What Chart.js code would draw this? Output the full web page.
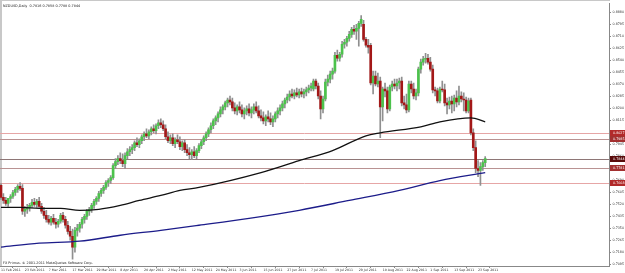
<!DOCTYPE html>
<html lang="en">
<head>
<meta charset="UTF-8" />
<title>NZDUSD Daily</title>
<script src="https://cdn.jsdelivr.net/npm/chart.js"></script>
<style>
  html, body { margin: 0; padding: 0; background: #fff; }
  canvas { display: block; }
</style>
</head>
<body>
<canvas id="chart" width="625" height="273"></canvas>
<script>
// daily bars, one per trading day from 11 Feb 2011
const openP = [
  0.7654,0.7569,0.7548,0.7527,0.7562,0.7576,0.7604,0.7626,0.7647,0.7633,
  0.7471,0.7485,0.7499,0.7513,0.7534,0.7520,0.7541,0.7506,0.7471,0.7442,
  0.7414,0.7393,0.7421,0.7393,0.7379,0.7400,0.7442,0.7414,0.7372,0.7329,
  0.7294,0.7217,0.7336,0.7351,0.7379,0.7414,0.7435,0.7471,0.7485,0.7513,
  0.7541,0.7562,0.7597,0.7619,0.7640,0.7675,0.7689,0.7710,0.7795,0.7823,
  0.7844,0.7830,0.7809,0.7865,0.7893,0.7908,0.7922,0.7957,0.7943,0.7971,
  0.7999,0.8020,0.8006,0.8035,0.8056,0.8042,0.8077,0.8098,0.8084,0.8056,
  0.7999,0.7971,0.7992,0.7950,0.7978,0.7964,0.7929,0.7957,0.7908,0.7886,
  0.7872,0.7893,0.7865,0.7901,0.7936,0.7964,0.7992,0.8020,0.8049,0.8077,
  0.8112,0.8133,0.8161,0.8190,0.8211,0.8239,0.8260,0.8246,0.8204,0.8183,
  0.8211,0.8190,0.8161,0.8183,0.8197,0.8168,0.8190,0.8211,0.8183,0.8147,
  0.8133,0.8112,0.8140,0.8126,0.8105,0.8126,0.8161,0.8183,0.8204,0.8232,
  0.8260,0.8281,0.8302,0.8288,0.8310,0.8295,0.8317,0.8302,0.8317,0.8331,
  0.8345,0.8338,0.8394,0.8359,0.8288,0.8197,0.8267,0.8387,0.8408,0.8443,
  0.8465,0.8577,0.8556,0.8584,0.8655,0.8669,0.8697,0.8725,0.8761,0.8747,
  0.8768,0.8803,0.8796,0.8690,0.8648,0.8648,0.8380,0.8429,0.8373,0.8394,
  0.8211,0.8338,0.8324,0.8197,0.8352,0.8373,0.8359,0.8380,0.8394,0.8239,
  0.8225,0.8190,0.8373,0.8338,0.8288,0.8310,0.8479,0.8528,0.8549,0.8556,
  0.8528,0.8479,0.8331,0.8324,0.8253,0.8338,0.8331,0.8239,0.8225,0.8253,
  0.8232,0.8274,0.8246,0.8288,0.8267,0.8260,0.8183,0.8260,0.8027,0.7922,
  0.7774,0.7760,0.7788,0.7816
];
const highP = [
  0.7668,0.7597,0.7569,0.7555,0.7590,0.7619,0.7640,0.7661,0.7675,0.7661,
  0.7506,0.7520,0.7527,0.7555,0.7562,0.7555,0.7569,0.7527,0.7499,0.7478,
  0.7442,0.7435,0.7449,0.7421,0.7414,0.7456,0.7463,0.7435,0.7400,0.7365,
  0.7344,0.7358,0.7379,0.7393,0.7428,0.7449,0.7485,0.7499,0.7527,0.7555,
  0.7576,0.7612,0.7633,0.7654,0.7689,0.7703,0.7724,0.7809,0.7844,0.7865,
  0.7886,0.7879,0.7886,0.7915,0.7929,0.7943,0.7971,0.7992,0.7985,0.8013,
  0.8035,0.8056,0.8049,0.8070,0.8084,0.8091,0.8119,0.8126,0.8112,0.8084,
  0.8035,0.8013,0.8020,0.7992,0.8013,0.7999,0.7971,0.7978,0.7943,0.7922,
  0.7908,0.7929,0.7915,0.7950,0.7978,0.8006,0.8035,0.8063,0.8098,0.8126,
  0.8147,0.8176,0.8211,0.8225,0.8253,0.8274,0.8288,0.8274,0.8239,0.8225,
  0.8246,0.8225,0.8204,0.8218,0.8232,0.8211,0.8232,0.8246,0.8218,0.8190,
  0.8176,0.8154,0.8183,0.8168,0.8147,0.8176,0.8204,0.8225,0.8253,0.8274,
  0.8302,0.8324,0.8338,0.8331,0.8345,0.8338,0.8345,0.8338,0.8352,0.8366,
  0.8380,0.8408,0.8408,0.8380,0.8324,0.8288,0.8408,0.8436,0.8465,0.8486,
  0.8598,0.8613,0.8598,0.8676,0.8690,0.8711,0.8747,0.8775,0.8789,0.8796,
  0.8817,0.8859,0.8824,0.8704,0.8690,0.8662,0.8465,0.8465,0.8450,0.8422,
  0.8352,0.8380,0.8352,0.8366,0.8394,0.8408,0.8408,0.8415,0.8422,0.8288,
  0.8302,0.8394,0.8394,0.8380,0.8338,0.8493,0.8549,0.8570,0.8591,0.8584,
  0.8563,0.8507,0.8352,0.8345,0.8352,0.8394,0.8373,0.8274,0.8281,0.8288,
  0.8295,0.8324,0.8359,0.8317,0.8310,0.8281,0.8274,0.8274,0.8056,0.7971,
  0.7830,0.7816,0.7830,0.7858
];
const lowP = [
  0.7555,0.7527,0.7513,0.7506,0.7534,0.7562,0.7583,0.7604,0.7619,0.7449,
  0.7435,0.7456,0.7471,0.7499,0.7506,0.7499,0.7499,0.7456,0.7421,0.7393,
  0.7379,0.7372,0.7379,0.7351,0.7358,0.7386,0.7393,0.7351,0.7308,0.7266,
  0.7132,0.7181,0.7294,0.7322,0.7351,0.7386,0.7414,0.7442,0.7463,0.7492,
  0.7520,0.7541,0.7576,0.7597,0.7626,0.7647,0.7668,0.7696,0.7774,0.7802,
  0.7809,0.7788,0.7774,0.7844,0.7865,0.7879,0.7901,0.7929,0.7922,0.7950,
  0.7971,0.7992,0.7985,0.8013,0.8027,0.8020,0.8056,0.8063,0.8042,0.7985,
  0.7957,0.7950,0.7936,0.7922,0.7950,0.7908,0.7901,0.7886,0.7865,0.7844,
  0.7837,0.7851,0.7844,0.7886,0.7915,0.7943,0.7971,0.7999,0.8027,0.8056,
  0.8084,0.8105,0.8140,0.8161,0.8190,0.8211,0.8225,0.8183,0.8161,0.8154,
  0.8168,0.8140,0.8126,0.8154,0.8147,0.8133,0.8161,0.8168,0.8133,0.8112,
  0.8091,0.8077,0.8105,0.8084,0.8070,0.8105,0.8133,0.8154,0.8183,0.8204,
  0.8239,0.8253,0.8274,0.8267,0.8281,0.8274,0.8281,0.8274,0.8288,0.8310,
  0.8324,0.8324,0.8338,0.8267,0.8126,0.8168,0.8253,0.8359,0.8380,0.8408,
  0.8450,0.8535,0.8535,0.8563,0.8627,0.8641,0.8676,0.8704,0.8725,0.8690,
  0.8641,0.8782,0.8676,0.8634,0.8591,0.8366,0.8302,0.8359,0.8352,0.7992,
  0.8112,0.8281,0.8168,0.8183,0.8324,0.8338,0.8324,0.8338,0.8218,0.8197,
  0.8168,0.8176,0.8310,0.8267,0.8260,0.8288,0.8450,0.8507,0.8521,0.8514,
  0.8465,0.8310,0.8288,0.8239,0.8239,0.8317,0.8218,0.8161,0.8197,0.8168,
  0.8183,0.8211,0.8225,0.8246,0.8183,0.8168,0.8168,0.8013,0.7901,0.7745,
  0.7717,0.7654,0.7760,0.7788
];
const closeP = [
  0.7569,0.7548,0.7527,0.7562,0.7576,0.7604,0.7626,0.7647,0.7633,0.7471,
  0.7485,0.7499,0.7513,0.7534,0.7520,0.7541,0.7506,0.7471,0.7442,0.7414,
  0.7393,0.7421,0.7393,0.7379,0.7400,0.7442,0.7414,0.7372,0.7329,0.7294,
  0.7217,0.7336,0.7351,0.7379,0.7414,0.7435,0.7471,0.7485,0.7513,0.7541,
  0.7562,0.7597,0.7619,0.7640,0.7675,0.7689,0.7710,0.7795,0.7823,0.7844,
  0.7830,0.7809,0.7865,0.7893,0.7908,0.7922,0.7957,0.7943,0.7971,0.7999,
  0.8020,0.8006,0.8035,0.8056,0.8042,0.8077,0.8098,0.8084,0.8056,0.7999,
  0.7971,0.7992,0.7950,0.7978,0.7964,0.7929,0.7957,0.7908,0.7886,0.7872,
  0.7893,0.7865,0.7901,0.7936,0.7964,0.7992,0.8020,0.8049,0.8077,0.8112,
  0.8133,0.8161,0.8190,0.8211,0.8239,0.8260,0.8246,0.8204,0.8183,0.8211,
  0.8190,0.8161,0.8183,0.8197,0.8168,0.8190,0.8211,0.8183,0.8147,0.8133,
  0.8112,0.8140,0.8126,0.8105,0.8126,0.8161,0.8183,0.8204,0.8232,0.8260,
  0.8281,0.8302,0.8288,0.8310,0.8295,0.8317,0.8302,0.8317,0.8331,0.8345,
  0.8359,0.8394,0.8359,0.8288,0.8197,0.8267,0.8387,0.8408,0.8443,0.8465,
  0.8577,0.8556,0.8584,0.8655,0.8669,0.8697,0.8725,0.8761,0.8747,0.8768,
  0.8803,0.8831,0.8690,0.8648,0.8634,0.8380,0.8429,0.8373,0.8394,0.8211,
  0.8338,0.8324,0.8197,0.8352,0.8373,0.8359,0.8380,0.8394,0.8239,0.8225,
  0.8190,0.8373,0.8338,0.8288,0.8310,0.8479,0.8528,0.8549,0.8556,0.8528,
  0.8479,0.8331,0.8324,0.8253,0.8338,0.8331,0.8239,0.8225,0.8253,0.8232,
  0.8274,0.8246,0.8288,0.8267,0.8260,0.8183,0.8253,0.8027,0.7922,0.7774,
  0.7760,0.7788,0.7816,0.7844
];

// moving averages, read at a few bars
const maSlowBars = [0, 8, 16, 25, 33, 41, 50, 58, 67, 75, 83, 109, 125, 139, 153, 159, 176, 184, 197, 203];
const maSlowVals = [0.7499, 0.7499, 0.7492, 0.7492, 0.7478, 0.7485, 0.7513, 0.7548, 0.7583, 0.7619, 0.7640,
                    0.7745, 0.7830, 0.7901, 0.8006, 0.8027, 0.8070, 0.8105, 0.8133, 0.8105];
const ma200Bars = [0, 16, 33, 50, 67, 83, 104, 125, 146, 167, 184, 203];
const ma200Vals = [0.7217, 0.7245, 0.7259, 0.7301, 0.7336, 0.7372, 0.7421, 0.7478, 0.7548, 0.7619, 0.7689, 0.7745];

// horizontal price lines
const levels = [0.8027, 0.7985, 0.7844, 0.7781, 0.7668];

const yTicks = [0.8880, 0.8795, 0.8710, 0.8625, 0.8540, 0.8455, 0.8370, 0.8285, 0.8200, 0.8115, 0.8030,
                0.7945, 0.7860, 0.7775, 0.7690, 0.7605, 0.7520, 0.7435, 0.7350, 0.7265, 0.7180, 0.7095];
const xTickBars = [0, 10, 20, 30, 40, 50, 60, 70, 80, 90, 100, 110, 120, 130, 140, 150, 160, 170, 180, 190, 200];
const xTickLabels = ['11 Feb 2011', '23 Feb 2011', '7 Mar 2011', '17 Mar 2011', '29 Mar 2011', '8 Apr 2011',
                     '20 Apr 2011', '2 May 2011', '12 May 2011', '24 May 2011', '3 Jun 2011', '15 Jun 2011',
                     '27 Jun 2011', '7 Jul 2011', '19 Jul 2011', '29 Jul 2011', '10 Aug 2011', '22 Aug 2011',
                     '1 Sep 2011', '13 Sep 2011', '23 Sep 2011'];

const levelLine = ['#e6a6a6', '#b99292', '#8e7676', '#b99292', '#e6a6a6'];
const levelBox = ['#b22a2a', '#a33030', '#5a0c0c', '#a33030', '#b22a2a'];
const FONT = 'DejaVu Sans';

const bodies = openP.map((o, i) => ({ x: i, y: [o, closeP[i]] }));
const wicks = lowP.map((l, i) => ({ x: i, y: [l, highP[i]] }));
const bodyColors = openP.map((o, i) => closeP[i] >= o ? '#4cc24c' : '#a31818');
const last = openP.length - 1;

const overlay = {
  id: 'overlay',
  beforeDraw(chart) {
    const { ctx } = chart;
    ctx.save();
    ctx.fillStyle = '#fff';
    ctx.fillRect(0, 0, chart.width, chart.height);
    ctx.fillStyle = '#c8c8c8';
    ctx.fillRect(0, 0, 2, 266);
    ctx.fillRect(0, 0, 610, 1);
    ctx.restore();
  },
  beforeDatasetsDraw(chart) {
    const { ctx, chartArea: a, scales: { y } } = chart;
    ctx.save();
    ctx.lineWidth = 1;
    levels.forEach((v, k) => {
      const py = Math.round(y.getPixelForValue(v)) + 0.5;
      ctx.strokeStyle = levelLine[k];
      ctx.beginPath();
      ctx.moveTo(a.left, py);
      ctx.lineTo(a.right, py);
      ctx.stroke();
    });
    ctx.restore();
  },
  afterDraw(chart) {
    const { ctx, chartArea: a, scales: { y } } = chart;
    ctx.save();
    ctx.font = '3.3px ' + FONT;
    ctx.textBaseline = 'middle';
    levels.forEach((v, k) => {
      const py = Math.round(y.getPixelForValue(v));
      ctx.fillStyle = levelBox[k];
      ctx.fillRect(a.right + 1, py - 3, 15, 6);
      ctx.fillStyle = '#fff';
      ctx.fillText(v.toFixed(4), a.right + 4, py + 0.5);
    });
    ctx.fillStyle = '#222';
    ctx.textBaseline = 'alphabetic';
    ctx.font = '3.4px ' + FONT;
    ctx.fillText('NZDUSD,Daily  ' + [openP[last], highP[last], lowP[last], closeP[last]].map(v => v.toFixed(4)).join(' '), 3, 7);
    ctx.fillText('FX Primus. \u00a9 2001-2011 MetaQuotes Software Corp.', 3, 264);
    ctx.restore();
  }
};

new Chart(document.getElementById('chart'), {
  type: 'bar',
  data: {
    datasets: [
      { type: 'line', data: maSlowBars.map((b, k) => ({ x: b, y: maSlowVals[k] })), borderColor: '#111',
        borderWidth: 1.3, pointRadius: 0, cubicInterpolationMode: 'monotone', order: 0 },
      { type: 'line', data: ma200Bars.map((b, k) => ({ x: b, y: ma200Vals[k] })), borderColor: '#1c1c8a',
        borderWidth: 1.3, pointRadius: 0, cubicInterpolationMode: 'monotone', order: 0 },
      { data: bodies, backgroundColor: bodyColors, barThickness: 2, order: 1 },
      { data: wicks, backgroundColor: '#8f8f8f', barThickness: 1, order: 2 }
    ]
  },
  plugins: [overlay],
  options: {
    responsive: false,
    animation: false,
    layout: { padding: { left: 0, top: 1, right: 0, bottom: 0 } },
    datasets: { bar: { grouped: false, borderWidth: 0 } },
    plugins: { legend: { display: false }, tooltip: { enabled: false } },
    scales: {
      x: {
        type: 'linear', min: -0.42, max: 254.9, offset: false,
        afterBuildTicks: s => { s.ticks = xTickBars.map(v => ({ value: v })); },
        afterFit: s => { s.height = 7; },
        ticks: { align: 'start', maxRotation: 0, autoSkip: false, padding: 0.5, color: '#333',
                 font: { family: FONT, size: 3.2 }, callback: (v, k) => xTickLabels[k] },
        grid: { drawOnChartArea: false, tickLength: 2, color: '#888' },
        border: { color: '#888' }
      },
      y: {
        position: 'right', min: 0.7083, max: 0.8944,
        afterBuildTicks: s => { s.ticks = yTicks.map(v => ({ value: v })); },
        afterFit: s => { s.width = 16; },
        ticks: { padding: 1.5, color: '#333', font: { family: FONT, size: 3.3 }, callback: v => v.toFixed(4) },
        grid: { drawOnChartArea: false, tickLength: 2, color: '#888' },
        border: { color: '#888' }
      }
    }
  }
});
</script>
</body>
</html>
